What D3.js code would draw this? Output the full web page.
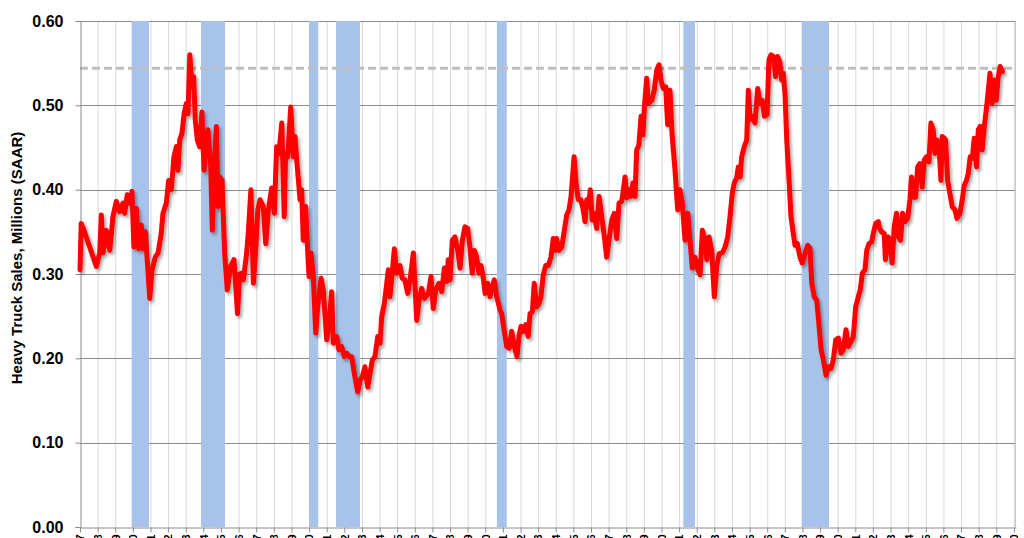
<!DOCTYPE html>
<html>
<head>
<meta charset="utf-8">
<script src="https://cdn.jsdelivr.net/npm/d3@7"></script>
<style>
  html, body { margin: 0; padding: 0; background: #fff; }
  svg { display: block; }
</style>
</head>
<body>
<svg id="chart" width="1024" height="538"></svg>
<script>
// ---- data (decimal year, heavy truck sales in millions SAAR) ----
const years = [
1967.00,1967.07,1967.17,1967.93,1968.12,1968.21,1968.31,1968.49,1968.69,1968.87,
1969.06,1969.25,1969.44,1969.54,1969.68,1969.82,1969.95,1970.06,1970.20,1970.33,
1970.48,1970.59,1970.71,1970.96,1971.09,1971.27,1971.43,1971.61,1971.71,1971.90,
1972.03,1972.18,1972.33,1972.47,1972.56,1972.66,1972.79,1972.90,1973.03,1973.13,
1973.23,1973.36,1973.45,1973.54,1973.66,1973.79,1973.92,1974.04,1974.17,1974.26,
1974.42,1974.51,1974.64,1974.74,1974.83,1974.93,1975.06,1975.21,1975.36,1975.55,
1975.74,1975.94,1976.06,1976.18,1976.27,1976.46,1976.55,1976.70,1976.84,1976.97,
1977.09,1977.22,1977.40,1977.54,1977.69,1977.88,1978.03,1978.16,1978.29,1978.45,
1978.59,1978.67,1978.79,1978.96,1979.11,1979.20,1979.30,1979.49,1979.58,1979.67,
1979.81,1979.92,1980.00,1980.11,1980.24,1980.38,1980.49,1980.68,1980.81,1981.00,
1981.13,1981.28,1981.38,1981.57,1981.70,1981.85,1982.00,1982.14,1982.27,1982.42,
1982.57,1982.76,1982.89,1983.02,1983.17,1983.33,1983.46,1983.59,1983.74,1983.90,
1984.03,1984.12,1984.27,1984.41,1984.50,1984.59,1984.72,1984.84,1984.97,1985.16,
1985.29,1985.44,1985.60,1985.73,1985.92,1986.11,1986.24,1986.39,1986.54,1986.77,
1986.92,1987.05,1987.19,1987.37,1987.53,1987.68,1987.81,1987.90,1988.00,1988.13,
1988.28,1988.44,1988.57,1988.70,1988.85,1989.00,1989.13,1989.26,1989.38,1989.51,
1989.64,1989.76,1989.89,1989.99,1990.14,1990.27,1990.40,1990.51,1990.65,1990.84,
1990.93,1991.08,1991.22,1991.36,1991.50,1991.65,1991.80,1991.91,1992.03,1992.16,
1992.30,1992.44,1992.54,1992.67,1992.78,1992.92,1993.05,1993.16,1993.29,1993.43,
1993.58,1993.73,1993.86,1993.99,1994.05,1994.18,1994.34,1994.49,1994.62,1994.75,
1994.87,1995.04,1995.15,1995.28,1995.43,1995.56,1995.66,1995.76,1995.85,1995.96,
1996.07,1996.19,1996.32,1996.46,1996.61,1996.76,1996.89,1997.02,1997.18,1997.32,
1997.46,1997.59,1997.74,1997.84,1997.93,1998.03,1998.16,1998.27,1998.38,1998.50,
1998.59,1998.72,1998.84,1998.95,1999.03,1999.16,1999.25,1999.45,1999.59,1999.73,
1999.86,1999.97,2000.10,2000.24,2000.35,2000.48,2000.61,2000.77,2000.92,2001.05,
2001.18,2001.34,2001.49,2001.62,2001.75,2001.90,2002.06,2002.19,2002.32,2002.48,
2002.57,2002.70,2002.85,2003.00,2003.13,2003.27,2003.45,2003.61,2003.76,2003.89,
2004.02,2004.13,2004.27,2004.36,2004.46,2004.55,2004.70,2004.84,2004.93,2005.03,
2005.16,2005.31,2005.46,2005.59,2005.72,2005.84,2005.99,2006.10,2006.22,2006.35,
2006.48,2006.59,2006.71,2006.82,2006.91,2007.01,2007.11,2007.24,2007.35,2007.48,
2007.58,2007.71,2007.86,2007.99,2008.15,2008.30,2008.43,2008.53,2008.67,2008.81,
2008.90,2009.06,2009.19,2009.34,2009.47,2009.62,2009.75,2009.89,2010.04,2010.19,
2010.32,2010.47,2010.60,2010.76,2010.89,2011.02,2011.17,2011.28,2011.40,2011.55,
2011.65,2011.78,2011.93,2012.02,2012.16,2012.31,2012.34,2012.49,2012.64,2012.71,
2012.87,2012.98,2013.09,2013.21,2013.34,2013.44,2013.57,2013.68,2013.82,2013.97,
2014.10,2014.19,2014.31,2014.42,2014.54,2014.67,2014.80,2014.91,2015.04,2015.18,
2015.29,2015.42,2015.52,2015.63,2015.75,2015.86,2015.93,2016.05,2016.12,2016.24,
2016.37,2016.50,2016.66,2016.77,2016.94,2017.07,2017.18,2017.31,2017.41,2017.52,
2017.64,2017.75,2017.88,2017.98,2018.09,2018.20,2018.32,2018.45,2018.55,2018.64,
2018.77,2018.89,2019.00,2019.11,2019.22,2019.35
];
const sales = [
0.305,0.360,0.355,0.309,0.325,0.370,0.325,0.352,0.328,0.368,
0.386,0.374,0.384,0.372,0.394,0.384,0.398,0.332,0.378,0.330,
0.358,0.330,0.350,0.271,0.305,0.320,0.325,0.348,0.372,0.384,
0.411,0.400,0.439,0.451,0.423,0.459,0.467,0.489,0.502,0.490,
0.560,0.522,0.534,0.483,0.459,0.451,0.492,0.423,0.459,0.471,
0.427,0.352,0.435,0.475,0.380,0.415,0.411,0.325,0.281,0.309,
0.317,0.253,0.300,0.301,0.293,0.325,0.348,0.400,0.289,0.328,
0.376,0.388,0.380,0.336,0.376,0.402,0.372,0.451,0.443,0.479,
0.368,0.443,0.439,0.498,0.439,0.463,0.435,0.388,0.400,0.340,
0.380,0.328,0.297,0.325,0.297,0.230,0.261,0.295,0.281,0.222,
0.241,0.279,0.218,0.226,0.210,0.214,0.202,0.206,0.202,0.202,
0.182,0.160,0.174,0.178,0.190,0.166,0.182,0.198,0.202,0.226,
0.218,0.249,0.265,0.289,0.305,0.273,0.301,0.330,0.301,0.310,
0.295,0.293,0.277,0.293,0.325,0.245,0.269,0.283,0.271,0.277,
0.297,0.259,0.281,0.289,0.279,0.307,0.291,0.317,0.293,0.340,
0.344,0.328,0.307,0.340,0.356,0.354,0.332,0.301,0.328,0.320,
0.301,0.310,0.295,0.277,0.289,0.273,0.285,0.293,0.273,0.257,
0.253,0.232,0.214,0.212,0.232,0.214,0.202,0.226,0.238,0.232,
0.240,0.226,0.253,0.255,0.289,0.261,0.265,0.273,0.299,0.310,
0.310,0.320,0.342,0.328,0.342,0.328,0.332,0.352,0.370,0.376,
0.392,0.439,0.408,0.388,0.388,0.376,0.362,0.388,0.380,0.400,
0.364,0.372,0.354,0.392,0.368,0.344,0.320,0.340,0.364,0.372,
0.342,0.384,0.386,0.400,0.415,0.390,0.400,0.392,0.408,0.392,
0.447,0.453,0.487,0.465,0.498,0.532,0.502,0.506,0.518,0.542,
0.548,0.530,0.520,0.522,0.477,0.518,0.463,0.423,0.376,0.400,
0.384,0.340,0.372,0.340,0.307,0.320,0.305,0.299,0.352,0.340,
0.317,0.344,0.328,0.273,0.309,0.324,0.325,0.332,0.344,0.368,
0.396,0.408,0.414,0.427,0.415,0.439,0.451,0.459,0.518,0.483,
0.487,0.479,0.520,0.502,0.506,0.487,0.489,0.554,0.560,0.558,
0.534,0.558,0.552,0.530,0.538,0.514,0.459,0.411,0.368,0.348,
0.334,0.336,0.320,0.313,0.325,0.334,0.330,0.289,0.273,0.269,
0.249,0.210,0.198,0.180,0.190,0.188,0.198,0.222,0.224,0.206,
0.210,0.234,0.214,0.220,0.226,0.261,0.273,0.281,0.301,0.305,
0.328,0.336,0.338,0.348,0.360,0.362,0.356,0.350,0.348,0.317,
0.344,0.340,0.313,0.356,0.372,0.344,0.340,0.372,0.362,0.366,
0.388,0.415,0.391,0.391,0.427,0.431,0.403,0.435,0.439,0.433,
0.479,0.471,0.443,0.459,0.451,0.411,0.463,0.461,0.459,0.411,
0.395,0.380,0.376,0.366,0.372,0.388,0.405,0.411,0.419,0.439,
0.437,0.461,0.427,0.471,0.475,0.447,0.475,0.498,0.518,0.538,
0.502,0.530,0.506,0.534,0.546,0.540
];
// recession periods (decimal years)
const recessionStarts = [1969.93, 1973.87, 1980.00, 1981.53, 1990.66, 2001.24, 2007.96];
const recessionEnds   = [1970.92, 1975.23, 1980.52, 1982.89, 1991.22, 2001.90, 2009.51];
// reference level (dashed line)
const referenceLevel = 0.544;
// axes
const yTicks = [0, 0.1, 0.2, 0.3, 0.4, 0.5, 0.6];
const tickYears = d3.range(1967, 2021);
const xDomain = [1967, 2020.12];
const yLabel = "Heavy Truck Sales, Millions (SAAR)";

// ---- drawing ----
const svg = d3.select("#chart");
const mLeft = 80, mRight = 1016, mTop = 21, mBottom = 527;
const x = d3.scaleLinear().domain(xDomain).range([mLeft, mRight]);
const y = d3.scaleLinear().domain([0, 0.6]).range([mBottom, mTop]);

const defs = svg.append("defs");
const f = defs.append("filter").attr("id", "shadow")
  .attr("x", "-5%").attr("y", "-5%").attr("width", "110%").attr("height", "110%");
f.append("feDropShadow").attr("dx", 2).attr("dy", 2.5).attr("stdDeviation", 1.6)
  .attr("flood-color", "#000").attr("flood-opacity", 0.35);

// vertical gridlines
svg.append("g").selectAll("line").data(tickYears.slice(1)).join("line")
  .attr("x1", d => x(d) + 0.5).attr("x2", d => x(d) + 0.5)
  .attr("y1", mTop).attr("y2", mBottom)
  .attr("stroke", "#d9d9d9").attr("stroke-width", 1);

// horizontal gridlines
svg.append("g").selectAll("line").data(yTicks.slice(1)).join("line")
  .attr("x1", mLeft).attr("x2", mRight)
  .attr("y1", d => Math.round(y(d)) + 0.5).attr("y2", d => Math.round(y(d)) + 0.5)
  .attr("stroke", "#8c8c8c").attr("stroke-width", 1);

// recession bars
svg.append("g").selectAll("rect").data(recessionStarts).join("rect")
  .attr("x", d => x(d))
  .attr("width", (d, i) => x(recessionEnds[i]) - x(d))
  .attr("y", mTop).attr("height", mBottom - mTop)
  .attr("fill", "#a7c3e9");

// right border
svg.append("line").attr("x1", mRight - 0.5).attr("x2", mRight - 0.5)
  .attr("y1", mTop).attr("y2", mBottom).attr("stroke", "#c8c8c8");

// dashed reference line
svg.append("line")
  .attr("x1", mLeft).attr("x2", mRight - 2)
  .attr("y1", y(referenceLevel)).attr("y2", y(referenceLevel))
  .attr("stroke", "#bfbfbf").attr("stroke-width", 3)
  .attr("stroke-dasharray", "8,4");

// axes
const yAxis = d3.axisLeft(y).tickValues(yTicks).tickFormat(d3.format(".2f")).tickSize(5).tickPadding(12);
const gy = svg.append("g").attr("transform", `translate(${mLeft + 0.5},0)`).call(yAxis);
gy.select(".domain").attr("stroke", "#8c8c8c");
gy.selectAll(".tick line").attr("stroke", "#8c8c8c");
gy.selectAll(".tick text")
  .attr("font-family", "'Liberation Sans', Arial, sans-serif")
  .attr("font-weight", "bold").attr("font-size", 16).attr("fill", "#000");

const xAxis = d3.axisBottom(x).tickValues(tickYears)
  .tickFormat(d => "Jan-" + String(d).slice(2)).tickSize(5).tickSizeOuter(0);
const gx = svg.append("g").attr("transform", `translate(0,${mBottom + 0.5})`).call(xAxis);
gx.select(".domain").attr("stroke", "#8c8c8c");
gx.selectAll(".tick line").attr("stroke", "#8c8c8c");
gx.selectAll(".tick text")
  .attr("font-family", "'Liberation Sans', Arial, sans-serif")
  .attr("font-weight", "bold").attr("font-size", 11).attr("fill", "#000")
  .attr("text-anchor", "end")
  .attr("transform", "rotate(-90)")
  .attr("x", -7).attr("y", 0).attr("dy", "0.35em");

// y label
svg.append("text")
  .attr("transform", "translate(18,258) rotate(-90)")
  .attr("text-anchor", "middle")
  .attr("dominant-baseline", "middle")
  .attr("font-family", "'Liberation Sans', Arial, sans-serif")
  .attr("font-weight", "bold").attr("font-size", 15)
  .text(yLabel);

// series line
const line = d3.line().x((d, i) => x(years[i])).y(d => y(d)).curve(d3.curveLinear);
svg.append("path").datum(sales)
  .attr("d", line)
  .attr("fill", "none").attr("stroke", "#ff0000")
  .attr("stroke-width", 5).attr("stroke-linejoin", "round").attr("stroke-linecap", "round")
  .attr("filter", "url(#shadow)");
</script>
</body>
</html>
